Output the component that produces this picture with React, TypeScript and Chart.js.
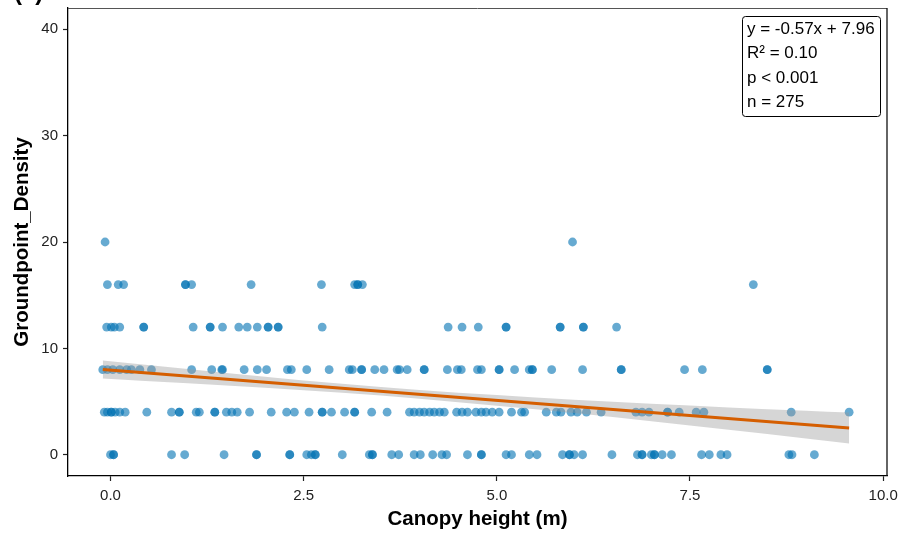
import React, { useEffect, useRef } from 'react';
import { Chart, registerables } from 'chart.js';

Chart.register(...registerables);

const FONT = '"Liberation Sans", Arial, Helvetica, sans-serif';

// Canopy height (x) values per Groundpoint_Density level (y)
const densityLevels = [0, 4, 8, 12, 16, 20];
const xAtDensity0 = [0.0, 0.04, 0.04, 0.79, 0.96, 1.47, 1.89, 1.89, 2.32, 2.32, 2.54, 2.6, 2.65, 2.65, 3.0, 3.35, 3.39, 3.39, 3.64, 3.73, 3.93, 4.01, 4.17, 4.29, 4.35, 4.62, 4.8, 4.8, 5.12, 5.19, 5.42, 5.52, 5.85, 5.94, 5.94, 6.0, 6.11, 6.49, 6.82, 6.88, 6.88, 7.0, 7.04, 7.04, 7.14, 7.26, 7.65, 7.75, 7.9, 7.98, 8.78, 8.82, 9.11];
const xAtDensity4 = [-0.08, -0.04, 0.01, 0.01, 0.06, 0.12, 0.19, 0.47, 0.79, 0.89, 0.89, 1.11, 1.15, 1.35, 1.35, 1.5, 1.57, 1.64, 1.8, 2.08, 2.28, 2.38, 2.57, 2.74, 2.74, 2.86, 3.03, 3.16, 3.16, 3.38, 3.58, 3.87, 3.93, 4.0, 4.06, 4.13, 4.19, 4.26, 4.32, 4.48, 4.55, 4.62, 4.73, 4.8, 4.86, 4.94, 5.03, 5.19, 5.32, 5.36, 5.64, 5.77, 5.83, 5.96, 6.04, 6.16, 6.35, 6.8, 6.88, 6.97, 7.21, 7.21, 7.36, 7.58, 7.68, 8.81, 9.56];
const xAtDensity8 = [-0.1, -0.04, 0.03, 0.12, 0.21, 0.27, 0.38, 0.53, 1.05, 1.31, 1.44, 1.45, 1.73, 1.9, 2.02, 2.29, 2.34, 2.54, 2.83, 3.09, 3.13, 3.25, 3.25, 3.42, 3.54, 3.71, 3.74, 3.84, 4.06, 4.06, 4.36, 4.49, 4.54, 4.75, 4.8, 5.03, 5.03, 5.23, 5.42, 5.46, 5.46, 5.71, 6.11, 6.61, 6.61, 7.43, 7.66, 8.5, 8.5];
const xAtDensity12 = [-0.05, 0.01, 0.05, 0.12, 0.43, 0.43, 1.07, 1.29, 1.29, 1.45, 1.66, 1.77, 1.9, 2.04, 2.04, 2.17, 2.17, 2.74, 4.37, 4.55, 4.76, 5.12, 5.12, 5.82, 5.82, 6.12, 6.12, 6.55];
const xAtDensity16 = [-0.04, 0.1, 0.17, 0.97, 0.97, 1.05, 1.82, 2.73, 3.16, 3.2, 3.2, 3.26, 8.32];
const xAtDensity20 = [-0.07, 5.98];

// Linear fit and its confidence band
const slope = -0.57;
const intercept = 7.96;
const fitX = [-0.1, 9.56];
const bandX = [-0.1, 1, 2, 3, 4, 5, 6, 7, 8, 9, 9.56];
const bandLow = [7.17, 6.71, 6.3, 5.83, 5.27, 4.61, 3.92, 3.15, 2.35, 1.53, 1.06];
const bandHigh = [8.87, 8.07, 7.34, 6.67, 6.09, 5.61, 5.16, 4.79, 4.45, 4.13, 3.96];

const xTicks = [0, 2.5, 5, 7.5, 10];
const yTicks = [0, 10, 20, 30, 40];
const annotationLines = ['y = -0.57x + 7.96', 'R² = 0.10', 'p < 0.001', 'n = 275'];
const panelTag = '(a)';

export default function App() {
  const ref = useRef<HTMLCanvasElement>(null);

  useEffect(() => {
    document.body.style.margin = '0';
    const canvas = ref.current;
    if (!canvas) return;

    const rows = [xAtDensity0, xAtDensity4, xAtDensity8, xAtDensity12, xAtDensity16, xAtDensity20];
    const points: { x: number; y: number }[] = [];
    rows.forEach((xs, i) => xs.forEach((x) => points.push({ x, y: densityLevels[i] })));

    const overlay = {
      id: 'overlay',
      afterDraw(chart: any) {
        const { ctx, chartArea: a } = chart;
        ctx.save();
        // top & right panel border
        ctx.strokeStyle = '#555';
        ctx.lineWidth = 1;
        ctx.beginPath();
        ctx.moveTo(a.left, a.top + 0.5);
        ctx.lineTo(a.right, a.top + 0.5);
        ctx.stroke();
        ctx.strokeStyle = '#111';
        ctx.lineWidth = 1.3;
        ctx.beginPath();
        ctx.moveTo(a.right, a.top);
        ctx.lineTo(a.right, a.bottom);
        ctx.stroke();

        // stats box
        const bw = 138;
        const bh = 100;
        const bx = a.right - 7 - bw;
        const by = a.top + 8;
        ctx.beginPath();
        if (ctx.roundRect) ctx.roundRect(bx + 0.5, by + 0.5, bw, bh, 3);
        else ctx.rect(bx + 0.5, by + 0.5, bw, bh);
        ctx.fillStyle = '#fff';
        ctx.fill();
        ctx.strokeStyle = '#000';
        ctx.lineWidth = 1;
        ctx.stroke();
        ctx.fillStyle = '#000';
        ctx.font = `17px ${FONT}`;
        ctx.textBaseline = 'middle';
        ctx.textAlign = 'left';
        annotationLines.forEach((t, i) => {
          ctx.fillText(t, bx + 5, by + 13 + i * 24.5);
        });

        // cropped panel tag
        ctx.font = `bold 24px ${FONT}`;
        ctx.textBaseline = 'alphabetic';
        ctx.fillText(panelTag, 14, 0);
        ctx.restore();
      },
    };

    const chart = new Chart(canvas, {
      type: 'scatter',
      data: {
        datasets: [
          {
            label: 'fit',
            data: fitX.map((x) => ({ x, y: intercept + slope * x })),
            showLine: true,
            borderColor: '#D55E00',
            borderWidth: 3,
            pointRadius: 0,
            order: 1,
          } as any,
          {
            label: 'bandLow',
            data: bandX.map((x, i) => ({ x, y: bandLow[i] })),
            showLine: true,
            borderWidth: 0,
            borderColor: 'rgba(0,0,0,0)',
            pointRadius: 0,
            fill: false,
            cubicInterpolationMode: 'monotone',
            order: 2,
          },
          {
            label: 'bandHigh',
            data: bandX.map((x, i) => ({ x, y: bandHigh[i] })),
            showLine: true,
            borderWidth: 0,
            borderColor: 'rgba(0,0,0,0)',
            backgroundColor: 'rgba(153,153,153,0.4)',
            pointRadius: 0,
            fill: '-1',
            cubicInterpolationMode: 'monotone',
            order: 2,
          },
          {
            label: 'points',
            data: points,
            pointRadius: 4.4,
            pointHoverRadius: 4.4,
            backgroundColor: 'rgba(0,114,178,0.6)',
            borderWidth: 0,
            order: 3,
          },
        ],
      },
      options: {
        animation: false,
        responsive: false,
        events: [],
        layout: { padding: { top: 8, right: 16, left: 0, bottom: 0 } },
        plugins: {
          legend: { display: false },
          tooltip: { enabled: false },
          title: { display: false },
        },
        scales: {
          x: {
            type: 'linear',
            min: -0.55,
            max: 10.05,
            afterBuildTicks: (s: any) => {
              s.ticks = xTicks.map((v) => ({ value: v }));
            },
            afterFit: (s: any) => {
              s.height = 62;
              s.paddingLeft = 0;
              s.paddingRight = 0;
            },
            ticks: {
              autoSkip: false,
              maxRotation: 0,
              padding: 6,
              color: '#222',
              font: { family: FONT, size: 15 },
              callback: (v: any) => Number(v).toFixed(1),
            },
            grid: {
              display: true,
              drawOnChartArea: false,
              drawTicks: true,
              tickLength: 5,
              tickColor: '#222',
              tickWidth: 1.2,
            },
            border: { display: true, color: '#000', width: 1.3 },
            title: {
              display: true,
              text: 'Canopy height (m)',
              color: '#000',
              font: { family: FONT, size: 20.5, weight: 'bold' },
              padding: { top: 0, bottom: 6 },
            },
          },
          y: {
            type: 'linear',
            min: -2,
            max: 42,
            afterBuildTicks: (s: any) => {
              s.ticks = yTicks.map((v) => ({ value: v }));
            },
            afterFit: (s: any) => {
              s.width = 68;
              s.paddingTop = 0;
              s.paddingBottom = 0;
            },
            ticks: {
              autoSkip: false,
              padding: 5,
              color: '#222',
              font: { family: FONT, size: 15 },
            },
            grid: {
              display: true,
              drawOnChartArea: false,
              drawTicks: true,
              tickLength: 5,
              tickColor: '#222',
              tickWidth: 1.2,
            },
            border: { display: true, color: '#000', width: 1.3 },
            title: {
              display: true,
              text: 'Groundpoint_Density',
              color: '#000',
              font: { family: FONT, size: 20.5, weight: 'bold' },
              padding: { top: 10, bottom: 0 },
            },
          },
        },
      },
      plugins: [overlay],
    } as any);

    return () => chart.destroy();
  }, []);

  return <canvas ref={ref} width={903} height={538} style={{ display: 'block' }} />;
}
